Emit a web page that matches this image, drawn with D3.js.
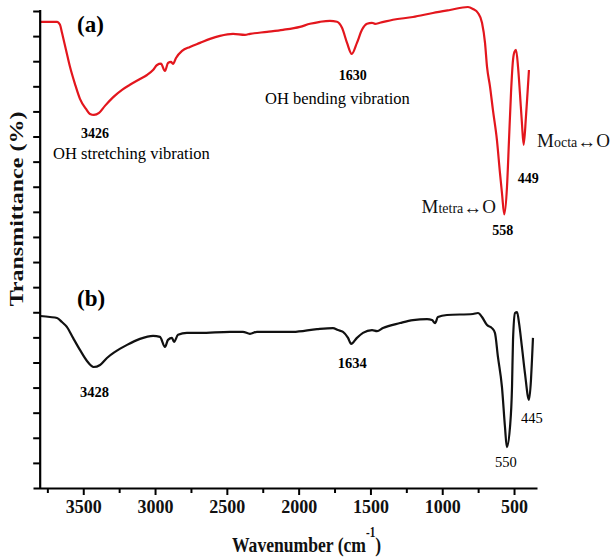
<!DOCTYPE html>
<html>
<head>
<meta charset="utf-8">
<script src="https://cdnjs.cloudflare.com/ajax/libs/d3/7.8.5/d3.min.js"></script>
<style>
  body { margin: 0; background: #fff; }
  svg { display: block; font-family: "Liberation Serif", "Times New Roman", serif; }
</style>
</head>
<body>
<svg width="612" height="557"></svg>
<script>
// FTIR spectra (transmittance in arbitrary units, one unit per y tick)
const waveA = [3800, 3683, 3662, 3648, 3620, 3592, 3558, 3523, 3481, 3453, 3426, 3390, 3349, 3293, 3230,
    3175, 3105, 3056, 3014, 2986, 2959, 2931, 2910, 2889, 2875, 2854, 2812, 2757, 2687, 2617, 2548,
    2457, 2374, 2339, 2220, 2109, 1991, 1921, 1851, 1782, 1733, 1698, 1663, 1630, 1594, 1559, 1524,
    1489, 1468, 1434, 1343, 1204, 1065, 946, 821, 786, 751, 723, 702, 688, 667, 647, 619, 598, 584,
    568, 549, 535, 521, 507, 497, 486, 472, 459, 445, 433, 417, 406, 396];
const transA = [18.57, 18.57, 18.45, 18.13, 17.45, 16.77, 16.10, 15.50, 15.10, 14.90, 14.86, 14.94, 15.22, 15.56, 15.86,
    16.06, 16.29, 16.45, 16.65, 16.85, 16.90, 16.61, 16.93, 16.97, 16.89, 17.13, 17.41, 17.57, 17.73, 17.89, 18.01,
    18.09, 18.05, 18.09, 18.17, 18.25, 18.37, 18.49, 18.57, 18.61, 18.57, 18.33, 17.73, 17.29, 17.73, 18.25, 18.49,
    18.53, 18.49, 18.53, 18.65, 18.76, 18.92, 19.04, 19.16, 19.08, 18.92, 18.53, 17.73, 16.77, 15.98, 15.06, 13.86, 12.55, 11.75,
    10.90, 11.99, 13.86, 15.74, 17.05, 17.37, 17.45, 16.77, 15.74, 14.54, 13.67, 14.78, 15.74, 16.65];

const waveB = [3800, 3732, 3683, 3648, 3613, 3571, 3523, 3474, 3428, 3383, 3335, 3279, 3195, 3105, 3014,
    2966, 2931, 2910, 2882, 2868, 2840, 2778, 2687, 2478, 2388, 2339, 2290, 2039, 1872, 1761, 1726,
    1691, 1656, 1634, 1594, 1552, 1489, 1454, 1413, 1294, 1204, 1106, 1071, 1050, 1030, 967, 786,
    751, 723, 688, 654, 633, 612, 584, 563, 550, 528, 514, 507, 493, 479, 465, 445, 424, 396, 382, 375, 368];
const transB = [6.85, 6.81, 6.77, 6.61, 6.41, 5.98, 5.50, 5.06, 4.82, 4.90, 5.18, 5.42, 5.70, 5.94, 6.06,
    6.02, 5.62, 5.90, 5.98, 5.82, 6.10, 6.18, 6.18, 6.22, 6.22, 6.14, 6.22, 6.22, 6.33, 6.37, 6.29,
    6.22, 5.98, 5.74, 5.98, 6.18, 6.29, 6.25, 6.37, 6.57, 6.69, 6.73, 6.69, 6.57, 6.81, 6.89, 6.93,
    6.97, 6.81, 6.49, 6.37, 6.18, 5.22, 4.02, 2.43, 1.63, 2.43, 4.02, 5.90, 6.97, 7.01, 6.57, 5.62, 4.58, 3.51, 4.30, 5.10, 5.98];

// peak labels
const peaksA = [3426, 1630, 558, 449];
const peaksB = [3428, 1634, 550, 445];

const xTicks = d3.range(500, 3751, 250);
const yTicks = d3.range(1, 20);

const svg = d3.select("svg");

const x = d3.scaleLinear().domain([3850, 340]).range([33, 537]);
const y = d3.scaleLinear().domain([0, 19]).range([488, 11]);
const yAxisX = x(3800);

const line = d3.line()
    .x(d => x(d[0]))
    .y(d => y(d[1]))
    .curve(d3.curveMonotoneX);

svg.append("path")
    .datum(d3.zip(waveA, transA))
    .attr("fill", "none")
    .attr("stroke", "#e3161d")
    .attr("stroke-width", 2.2)
    .attr("stroke-linejoin", "round")
    .attr("d", line);

svg.append("path")
    .datum(d3.zip(waveB, transB))
    .attr("fill", "none")
    .attr("stroke", "#111")
    .attr("stroke-width", 2.2)
    .attr("stroke-linejoin", "round")
    .attr("d", line);

// x axis
const gx = svg.append("g")
    .attr("transform", "translate(0,488)")
    .call(d3.axisBottom(x)
        .tickValues(xTicks)
        .tickSize(6)
        .tickSizeOuter(0)
        .tickFormat(d => d % 500 === 0 ? d : ""));
gx.select(".domain").attr("stroke-width", 2.2);
gx.selectAll(".tick line").attr("stroke-width", 2)
    .attr("y2", d => d % 500 === 0 ? 7 : 5);
gx.selectAll(".tick text")
    .attr("y", 12)
    .attr("font-family", "Liberation Serif, serif")
    .attr("font-size", 18)
    .attr("font-weight", "bold")
    .attr("fill", "#111");

// y axis (no labels)
const gy = svg.append("g")
    .attr("transform", `translate(${yAxisX},0)`)
    .call(d3.axisLeft(y)
        .tickValues(yTicks)
        .tickSize(7)
        .tickSizeOuter(0)
        .tickFormat(""));
gy.select(".domain").attr("d", `M0,488V10`).attr("stroke-width", 2.2);
gy.selectAll(".tick line").attr("stroke-width", 2);

// axis titles
const xt = svg.append("text")
    .attr("transform", "translate(232,552) scale(0.8,1)")
    .attr("font-size", 22)
    .attr("font-weight", "bold")
    .attr("fill", "#111");
xt.append("tspan").text("Wavenumber (cm");
xt.append("tspan").attr("font-size", 14).attr("dy", -15).text("-1");
xt.append("tspan").attr("dy", 15).text(")");

svg.append("text")
    .attr("transform", "translate(23,209) rotate(-90) scale(1,0.8)")
    .attr("text-anchor", "middle")
    .attr("font-size", 24)
    .attr("font-weight", "bold")
    .attr("fill", "#111")
    .text("Transmittance (%)");

// panel labels
svg.append("text").attr("x", 77).attr("y", 32)
    .attr("font-size", 23).attr("font-weight", "bold").text("(a)");
svg.append("text").attr("x", 77).attr("y", 306)
    .attr("font-size", 23).attr("font-weight", "bold").text("(b)");

// peak numbers
const offA = [{dx: 1, y: 138}, {dx: 1, y: 80}, {dx: -3, y: 235}, {dx: 7, y: 183}];
const offB = [{dx: 1, y: 397}, {dx: 1, y: 368}, {dx: -1, y: 467}, {dx: 10, y: 423}];

svg.selectAll("text.pa")
    .data(peaksA)
    .join("text")
    .attr("class", "pa")
    .attr("x", (d, i) => x(d) + offA[i].dx)
    .attr("y", (d, i) => offA[i].y)
    .attr("text-anchor", "middle")
    .attr("font-size", 14)
    .attr("font-weight", "bold")
    .text(d => d);

svg.selectAll("text.pb")
    .data(peaksB)
    .join("text")
    .attr("class", "pb")
    .attr("x", (d, i) => x(d) + offB[i].dx)
    .attr("y", (d, i) => offB[i].y)
    .attr("text-anchor", "middle")
    .attr("font-size", 14.5)
    .attr("font-weight", (d, i) => i < 2 ? "bold" : "normal")
    .text(d => d);

// band assignments
svg.append("text").attr("x", 53).attr("y", 159)
    .attr("font-size", 16.5).text("OH stretching vibration");
svg.append("text").attr("x", 265).attr("y", 104)
    .attr("font-size", 16.5).text("OH bending vibration");

function bond(xEnd, yp, sub) {
    const t = svg.append("text").attr("x", xEnd).attr("y", yp)
        .attr("text-anchor", "end").attr("fill", "#111");
    t.append("tspan").attr("font-size", 19).text("M");
    t.append("tspan").attr("font-size", 14).text(sub);
    t.append("tspan").attr("font-size", 19).attr("dy", 1).text("\u2194");
    t.append("tspan").attr("font-size", 19).attr("dy", -1).text("O");
}
bond(496, 213, "tetra");
bond(610, 147, "octa");
</script>
</body>
</html>
